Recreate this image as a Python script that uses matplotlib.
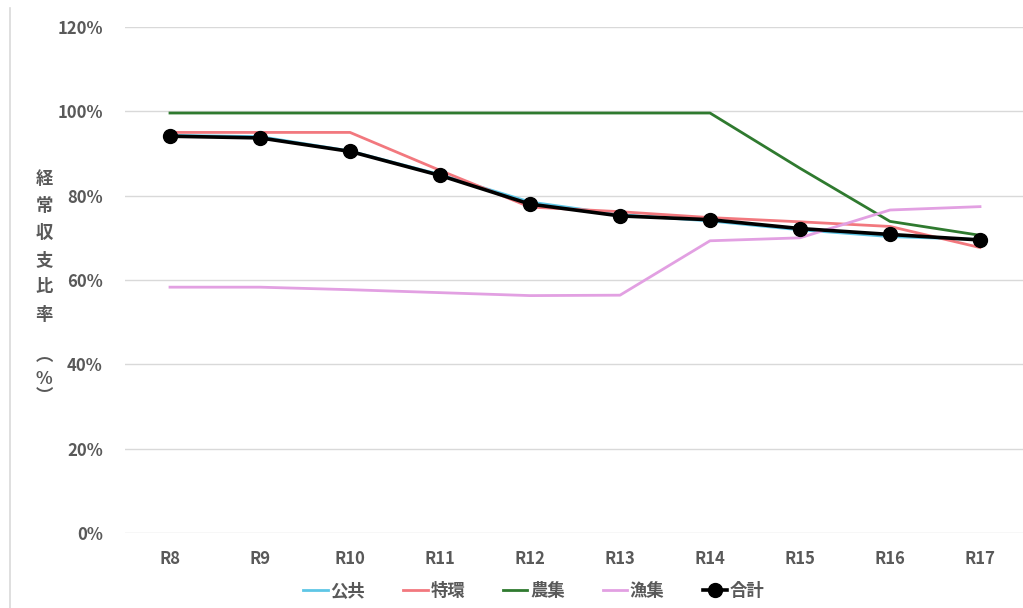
import matplotlib
matplotlib.use("Agg")
import matplotlib.pyplot as plt
from matplotlib.lines import Line2D
from matplotlib.ticker import PercentFormatter

plt.rcParams['font.family'] = ['Noto Sans CJK JP', 'DejaVu Sans']

years = ["R8", "R9", "R10", "R11", "R12", "R13", "R14", "R15", "R16", "R17"]

kokyo = [94.3, 94.0, 90.6, 85.0, 78.5, 75.5, 74.0, 71.9, 70.3, 69.6]     # 公共
tokkan = [95.0, 95.0, 95.0, 86.0, 77.3, 76.2, 74.8, 73.8, 72.7, 67.7]    # 特環
noshu = [99.6, 99.6, 99.6, 99.6, 99.6, 99.6, 99.6, 86.5, 73.9, 70.6]     # 農集
gyoshu = [58.3, 58.3, 57.7, 57.0, 56.3, 56.4, 69.3, 70.0, 76.6, 77.4]    # 漁集
total = [94.1, 93.7, 90.5, 84.8, 78.0, 75.2, 74.3, 72.2, 70.8, 69.5]     # 合計

series = [
    ("公共", kokyo, "#5ec6e6"),
    ("特環", tokkan, "#f2787e"),
    ("農集", noshu, "#2f7a2f"),
    ("漁集", gyoshu, "#e2a0e2"),
]

fig = plt.figure(figsize=(10.23, 6.08), dpi=100)
ax = fig.add_axes([125 / 1023, 1 - 533 / 608, 900 / 1023, 506 / 608])

x = list(range(len(years)))
for name, vals, col in series:
    ax.plot(x, vals, color=col, lw=2.0, label=name, zorder=3)
ax.plot(x, total, color="black", lw=2.6, marker="o", markersize=10,
        label="合計", zorder=4)

ax.set_xlim(-0.5, len(years) - 0.5)
ax.set_ylim(0, 120)
ax.set_yticks(range(0, 121, 20))
ax.yaxis.set_major_formatter(PercentFormatter(decimals=0))
ax.set_xticks(x)
ax.set_xticklabels(years)
ax.grid(axis="y", color="#d9d9d9", lw=1.0)
ax.set_axisbelow(True)
for s in ax.spines.values():
    s.set_visible(False)
ax.tick_params(axis="both", length=0, colors="#595959", labelsize=12)
ax.tick_params(axis="y", pad=16)
ax.tick_params(axis="x", pad=12)
for lab in ax.get_xticklabels() + ax.get_yticklabels():
    lab.set_fontweight("bold")

# vertical y-axis title
ylabel_chars = ["経", "常", "収", "支", "比", "率", "︵", "%", "︶"]
ylabel_pos = [179, 206, 233, 260, 287, 315, 357, 379, 396]
for ch, yp in zip(ylabel_chars, ylabel_pos):
    fig.text(44 / 1023, 1 - yp / 608, ch, ha="center", va="center",
             fontsize=12.5, fontweight="bold", color="#595959")

# frame line on the left
fig.add_artist(Line2D([10 / 1023, 10 / 1023], [0, 1 - 8 / 608],
                      transform=fig.transFigure, color="#d9d9d9", lw=1.2))

leg = ax.legend(loc="center", bbox_to_anchor=(534 / 1023, 1 - 591 / 608),
                bbox_transform=fig.transFigure, ncol=5, frameon=False,
                fontsize=12.5, handlelength=1.4, handletextpad=0.15,
                columnspacing=2.2)
for t in leg.get_texts():
    t.set_color("#595959")
    t.set_fontweight("bold")

fig.savefig("out.png", dpi=100, facecolor="white")
